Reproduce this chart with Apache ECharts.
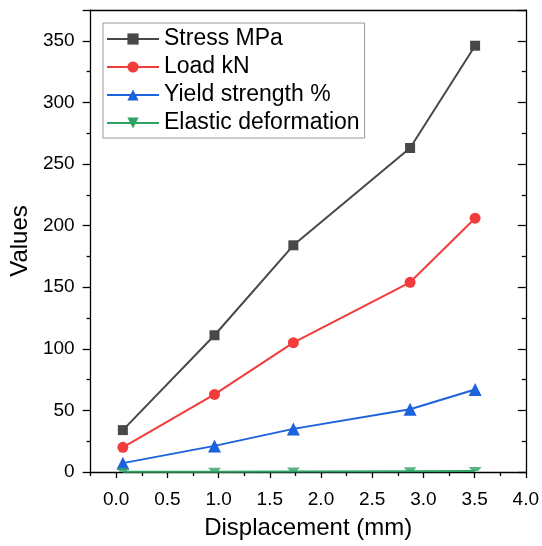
<!DOCTYPE html>
<html><head><meta charset="utf-8">
<script src="https://cdn.jsdelivr.net/npm/echarts@6/dist/echarts.min.js"></script>
<style>html,body{margin:0;padding:0;background:#fff}#c{width:542px;height:546px}</style>
</head><body><div id="c"></div>
<script>
const displacement = [0.065, 0.96, 1.73, 2.87, 3.505];
const stress = [34, 111, 184, 263, 346];
const load = [20, 63, 105, 154, 206];
const yieldStrength = [7.2, 21.2, 35, 51, 67];
const elastic = [0.2, 0.3, 0.5, 0.7, 0.9];
const seriesNames = ['Stress MPa', 'Load kN', 'Yield strength %', 'Elastic deformation'];
const xMajorTicks = [0, 0.5, 1, 1.5, 2, 2.5, 3, 3.5, 4];
const xMinorTicks = [-0.25, 0.25, 0.75, 1.25, 1.75, 2.25, 2.75, 3.25, 3.75];

const FONT = 'Liberation Sans, Arial, sans-serif';
const pair = ys => displacement.map((x, i) => [x, ys[i]]);
const chart = echarts.init(document.getElementById('c'), null, {renderer: 'canvas'});
const grid = {left: 87, right: 15, top: 10, bottom: 74, containLabel: false};
const axLine = {show: true, onZero: false, lineStyle: {color: '#000', width: 1.3}};
const halfDownTri = 'path://M0,0 L13,0 L9.5,4 L3.5,4 Z';
function mkSeries(name, data, symbol, size, color, extra) {
  return Object.assign({
    name, type: 'line', data: pair(data), symbol, symbolSize: size,
    clip: true,
    lineStyle: {color, width: 2}, itemStyle: {color},
    emphasis: {disabled: true}, animation: false
  }, extra || {});
}
chart.setOption({
  animation: false,
  textStyle: {fontFamily: FONT},
  grid,
  legend: {
    left: 103, top: 23, orient: 'vertical',
    itemWidth: 52, itemHeight: 14, itemGap: 4,
    padding: [4, 5, 3, 3],
    borderColor: '#999', borderWidth: 1,
    textStyle: {fontFamily: FONT, fontSize: 23, color: '#000', lineHeight: 24},
    data: seriesNames
  },
  xAxis: [
    {
      type: 'value', position: 'bottom', min: -0.25, max: 4, interval: 0.25,
      axisLine: axLine,
      axisTick: {show: true, customValues: xMajorTicks, length: 6, lineStyle: {color: '#000', width: 1.3}},
      axisLabel: {customValues: xMajorTicks, fontSize: 19, color: '#000', fontFamily: FONT, margin: 18,
        formatter: v => v.toFixed(1)},
      splitLine: {show: false},
      name: 'Displacement (mm)', nameLocation: 'middle', nameGap: 44,
      nameTextStyle: {fontSize: 24, color: '#000', fontFamily: FONT}
    },
    {
      type: 'value', position: 'bottom', min: -0.25, max: 4, interval: 0.25,
      axisLine: {show: false, onZero: false},
      axisTick: {show: true, customValues: xMinorTicks, length: 4, lineStyle: {color: '#000', width: 1.3}},
      axisLabel: {show: false}, splitLine: {show: false}
    },
    {
      type: 'value', position: 'top', min: -0.25, max: 4, interval: 0.25,
      axisLine: axLine, axisTick: {show: false}, axisLabel: {show: false}, splitLine: {show: false}
    }
  ],
  yAxis: [
    {
      type: 'value', position: 'left', min: 0, max: 375, interval: 50,
      axisLine: axLine,
      axisTick: {show: true, length: 8, lineStyle: {color: '#000', width: 1.3}},
      minorTick: {show: true, splitNumber: 2, length: 4, lineStyle: {color: '#000', width: 1.3}},
      axisLabel: {fontSize: 19, color: '#000', fontFamily: FONT, margin: 16, showMaxLabel: false},
      splitLine: {show: false}, minorSplitLine: {show: false},
      name: 'Values', nameLocation: 'middle', nameGap: 50,
      nameTextStyle: {fontSize: 24, color: '#000', fontFamily: FONT}
    },
    {
      type: 'value', position: 'right', min: 0, max: 375, interval: 50,
      axisLine: axLine,
      axisTick: {show: true, inside: true, length: 8, lineStyle: {color: '#000', width: 1.3}},
      minorTick: {show: true, splitNumber: 2, length: 4, lineStyle: {color: '#000', width: 1.3}},
      axisLabel: {show: false}, splitLine: {show: false}
    }
  ],
  series: [
    mkSeries(seriesNames[0], stress, 'rect', 10, '#484848'),
    mkSeries(seriesNames[1], load, 'circle', 11, '#f23c3c'),
    mkSeries(seriesNames[2], yieldStrength, 'triangle', 13, '#1c62dc'),
    mkSeries(seriesNames[3], elastic, 'triangle', 13, '#2ea264', {symbolRotate: 180, showSymbol: false}),
    {
      name: 'elastic-markers', type: 'scatter', data: pair(elastic),
      symbol: halfDownTri, symbolSize: [13, 4], symbolOffset: [0, -2], symbolKeepAspect: false,
      itemStyle: {color: '#2ea264'}, emphasis: {disabled: true}, silent: true, animation: false, z: 3
    }
  ]
});
</script></body></html>
